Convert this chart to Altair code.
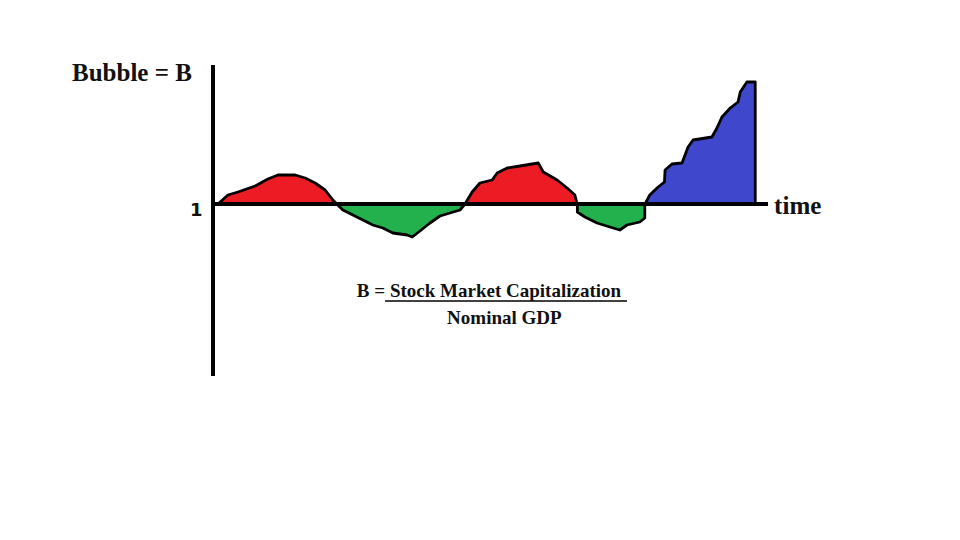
import altair as alt
import pandas as pd

# ---------------- data (time in arbitrary units, B = market cap / nominal GDP) ----------------
red1_t = [0.9, 2.7, 4.5, 7.6, 9.9, 11.7, 14.8, 16.6, 18.4, 20.2, 21.6, 22.3]
red1_b = [1.0, 1.045, 1.06, 1.09, 1.125, 1.145, 1.145, 1.13, 1.105, 1.07, 1.02, 1.0]

green1_t = [22.3, 23.4, 25.2, 27.0, 28.8, 30.6, 32.4, 35.0, 35.9, 37.3, 39.1, 40.9, 42.7, 44.5, 45.4]
green1_b = [1.0, 0.97, 0.945, 0.92, 0.895, 0.88, 0.855, 0.845, 0.835, 0.865, 0.905, 0.94, 0.955, 0.97, 1.0]

red2_t = [45.4, 46.7, 48.1, 50.3, 51.2, 53.0, 55.3, 58.6, 59.5, 62.0, 63.8, 65.2, 65.6]
red2_b = [1.0, 1.06, 1.105, 1.12, 1.155, 1.18, 1.19, 1.205, 1.16, 1.12, 1.08, 1.045, 1.0]

green2_t = [65.65, 67.0, 69.2, 71.5, 73.3, 74.6, 76.9, 77.8]
green2_b = [0.96, 0.935, 0.905, 0.885, 0.87, 0.895, 0.91, 0.93]

blue_t = [77.85, 78.7, 80.2, 81.35, 81.45, 82.7, 84.5, 85.6, 86.5, 89.9, 90.8, 91.7, 93.2, 94.6, 95.0, 96.2, 97.7]
blue_b = [1.0, 1.045, 1.085, 1.11, 1.17, 1.2, 1.205, 1.285, 1.32, 1.335, 1.38, 1.435, 1.48, 1.51, 1.56, 1.61, 1.61]

time_range = [0, 100]          # extent of the time axis
b_axis_range = [0.14, 1.695]   # extent of the drawn B axis
baseline_b = 1                 # B = 1 reference line

RED, GREEN, BLUE = "#ED1C24", "#22B14C", "#3F48CC"

segments = [
    ("red1", red1_t, red1_b, RED),
    ("green1", green1_t, green1_b, GREEN),
    ("red2", red2_t, red2_b, RED),
    ("green2", green2_t, green2_b, GREEN),
    ("blue", blue_t, blue_b, BLUE),
]
rows = []
for name, ts, bs, col in segments:
    for t, b in zip(ts, bs):
        rows.append({"seg": name, "t": t, "B": b, "base": baseline_b, "col": col})
area_df = pd.DataFrame(rows)

# ---------------- layout ----------------
W, H = 944, 524
PX_T = 5.55     # px per time unit
PX_B = 200.0    # px per B unit
T0_PX = 205     # px of t = 0 inside view
B1_PX = 196     # px of B = 1 inside view (from top)
x_scale = alt.Scale(domain=[-T0_PX / PX_T, (W - T0_PX) / PX_T], nice=False, zero=False)
y_scale = alt.Scale(domain=[1 - (H - B1_PX) / PX_B, 1 + B1_PX / PX_B], nice=False, zero=False)

X = lambda f: alt.X(f, type="quantitative", scale=x_scale, axis=None)
Y = lambda f: alt.Y(f, type="quantitative", scale=y_scale, axis=None, stack=None)

areas = []
for name, _, _, col in segments:
    areas.append(
        alt.Chart(area_df).transform_filter(alt.datum.seg == name).mark_area(
            fill=col, stroke="black", strokeWidth=2.8, strokeJoin="round", orient="vertical"
        ).encode(x=X("t"), y=Y("B"), y2="base:Q")
    )

base_df = pd.DataFrame({"t0": [time_range[0]], "t1": [time_range[1]], "B": [baseline_b]})
baseline = alt.Chart(base_df).mark_rule(color="black", strokeWidth=4).encode(
    x=X("t0"), x2="t1", y=Y("B")
)
vaxis_df = pd.DataFrame({"t": [0], "b0": [b_axis_range[0]], "b1": [b_axis_range[1]]})
vaxis = alt.Chart(vaxis_df).mark_rule(color="black", strokeWidth=4).encode(
    x=X("t"), y=Y("b0"), y2="b1"
)

frac_df = pd.DataFrame({"t0": [31.0], "t1": [74.6], "B": [0.515]})
frac = alt.Chart(frac_df).mark_rule(color="black", strokeWidth=1.5).encode(
    x=X("t0"), x2="t1", y=Y("B")
)

serif = "Liberation Serif, Times New Roman, serif"

title_df = pd.DataFrame({"label": ["Bubble = B"], "t": [-25.4], "B": [1.615]})
title = alt.Chart(title_df).mark_text(
    font=serif, fontWeight="bold", fontSize=25, align="left", baseline="alphabetic", color="#111"
).encode(x=X("t"), y=Y("B"), text="label")

time_df = pd.DataFrame({"label": ["time"], "t": [101.1], "B": [0.95]})
time_lbl = alt.Chart(time_df).mark_text(
    font=serif, fontWeight="bold", fontSize=25, align="left", baseline="alphabetic", color="#111"
).encode(x=X("t"), y=Y("B"), text="label")

one_df = pd.DataFrame({"label": ["1"], "t": [-1.9], "B": [0.94]})
one_lbl = alt.Chart(one_df).mark_text(
    font="DejaVu Sans", fontWeight="bold", fontSize=18, align="right", baseline="alphabetic", color="#111"
).encode(x=X("t"), y=Y("B"), text="label")

beq_df = pd.DataFrame({"label": ["B ="], "t": [25.9], "B": [0.535]})
beq = alt.Chart(beq_df).mark_text(
    font=serif, fontWeight="bold", fontSize=19, align="left", baseline="alphabetic", color="#111"
).encode(x=X("t"), y=Y("B"), text="label")

formula_df = pd.DataFrame({
    "label": ["Stock Market Capitalization", "Nominal GDP"],
    "t": [52.7, 52.5],
    "B": [0.535, 0.402],
})
formula = alt.Chart(formula_df).mark_text(
    font=serif, fontWeight="bold", fontSize=19, align="center", baseline="alphabetic", color="#111"
).encode(x=X("t"), y=Y("B"), text="label")

chart = alt.layer(
    *areas, baseline, vaxis, frac, title, time_lbl, one_lbl, beq, formula
).properties(
    width=W, height=H, padding=0, autosize=alt.AutoSizeParams(type="none"),
    background="white",
).configure_view(stroke=None)

chart.save("out.html", embed_options={"renderer": "svg", "actions": False})
